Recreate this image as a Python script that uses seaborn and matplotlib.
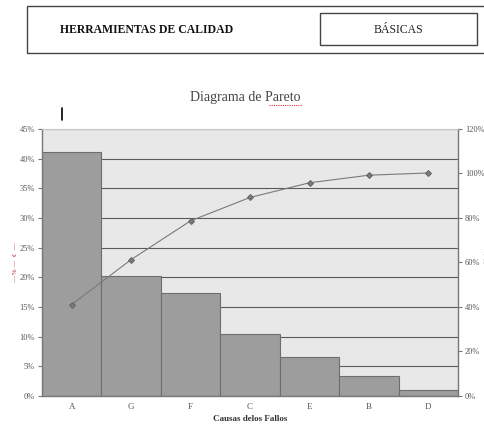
import numpy as np
import pandas as pd
import matplotlib
matplotlib.use("Agg")
import matplotlib.pyplot as plt
from matplotlib.patches import Rectangle
from matplotlib.ticker import FuncFormatter, FixedLocator
import seaborn as sns

# Data
causas = ['A', 'G', 'F', 'C', 'E', 'B', 'D']
porcentaje = [41.1, 20.2, 17.4, 10.5, 6.6, 3.4, 1.0]
left_ticks = [0, 5, 10, 15, 20, 25, 30, 35, 40, 45]
right_ticks = [0, 20, 40, 60, 80, 100, 120]

df = pd.DataFrame({'causa': causas, 'pct': porcentaje})
df['acumulado'] = df['pct'].cumsum()
df['pos'] = np.arange(len(df))

sns.set_style('white')
plt.rcParams['font.family'] = ['Liberation Serif', 'DejaVu Serif']

fig = plt.figure(figsize=(4.85, 4.24), dpi=100)
ax = fig.add_axes([0.0866, 0.066, 0.858, 0.630])
ax.set_facecolor('#e8e8e8')

sns.barplot(data=df, x='causa', y='pct', width=1, color='#9d9d9d', saturation=1,
            edgecolor='#6e6e6e', linewidth=0.8, ax=ax, zorder=2)
ax.set_ylim(0, 45)
ax.set_xlim(-0.5, len(causas) - 0.5)
ax.yaxis.set_major_locator(FixedLocator(left_ticks))
ax.yaxis.set_major_formatter(FuncFormatter(lambda v, p: f'{v:.0f}%'))
ax.grid(axis='y', color='#5a5a5a', linewidth=0.8, zorder=0)
ax.set_axisbelow(True)
ax.xaxis.set_minor_locator(FixedLocator(np.arange(-0.5, len(causas), 1)))
ax.tick_params(axis='x', which='major', length=0, labelsize=6.5, labelcolor='#555555', pad=5)
ax.tick_params(axis='x', which='minor', length=3, color='#777777', direction='out')
ax.tick_params(axis='y', length=3, color='#777777', labelsize=6, labelcolor='#555555', pad=2,
               direction='out', left=True)
ax.set_xlabel('Causas delos Fallos', fontsize=6.5, fontweight='bold', color='#333333', labelpad=3)
ax.set_ylabel('— % —  ¢  —', fontsize=5, color='#aa2222', labelpad=1)
for side in ['left', 'bottom', 'right']:
    ax.spines[side].set_color('#777777')
    ax.spines[side].set_linewidth(1)
ax.spines['top'].set_color('#c8c8c8')

ax2 = ax.twinx()
sns.lineplot(data=df, x='pos', y='acumulado', color='#7a7a7a', linewidth=0.8,
             marker='D', markersize=3, markeredgecolor='#666666', ax=ax2)
ax2.set_ylim(0, 120)
ax2.yaxis.set_major_locator(FixedLocator(right_ticks))
ax2.yaxis.set_major_formatter(FuncFormatter(lambda v, p: f'{v:.0f}%'))
ax2.tick_params(axis='y', length=3, color='#777777', labelsize=6, labelcolor='#555555', pad=2,
                direction='out', right=True)
ax2.set_ylabel('')
ax2.set_xlabel('')
for s in ax2.spines.values():
    s.set_visible(False)
ax.set_xlim(-0.5, len(causas) - 0.5)

# title and header
fig.text(0.505, 0.770, 'Diagrama de Pareto', ha='center', va='center', fontsize=10, color='#444444')
fig.add_artist(plt.Line2D([0.555, 0.622], [0.753, 0.753], color='#dd3333', lw=0.8,
                          linestyle=(0, (1, 1))))
fig.add_artist(plt.Line2D([0.128, 0.128], [0.718, 0.745], color='black', lw=1.2))

fig.add_artist(Rectangle((0.056, 0.875), 0.95, 0.110, fill=False, edgecolor='#444444', lw=1))
fig.add_artist(Rectangle((0.660, 0.894), 0.323, 0.075, fill=False, edgecolor='#444444', lw=1))
fig.text(0.124, 0.930, 'HERRAMIENTAS DE CALIDAD', ha='left', va='center', fontsize=8.5,
         fontweight='bold', color='#111111')
fig.text(0.821, 0.930, 'BÁSICAS', ha='center', va='center', fontsize=8.5, color='#222222')
fig.text(0.997, 0.39, '·\n¦', ha='center', va='center', fontsize=4, color='#888888')

fig.savefig('out.png', dpi=100)
